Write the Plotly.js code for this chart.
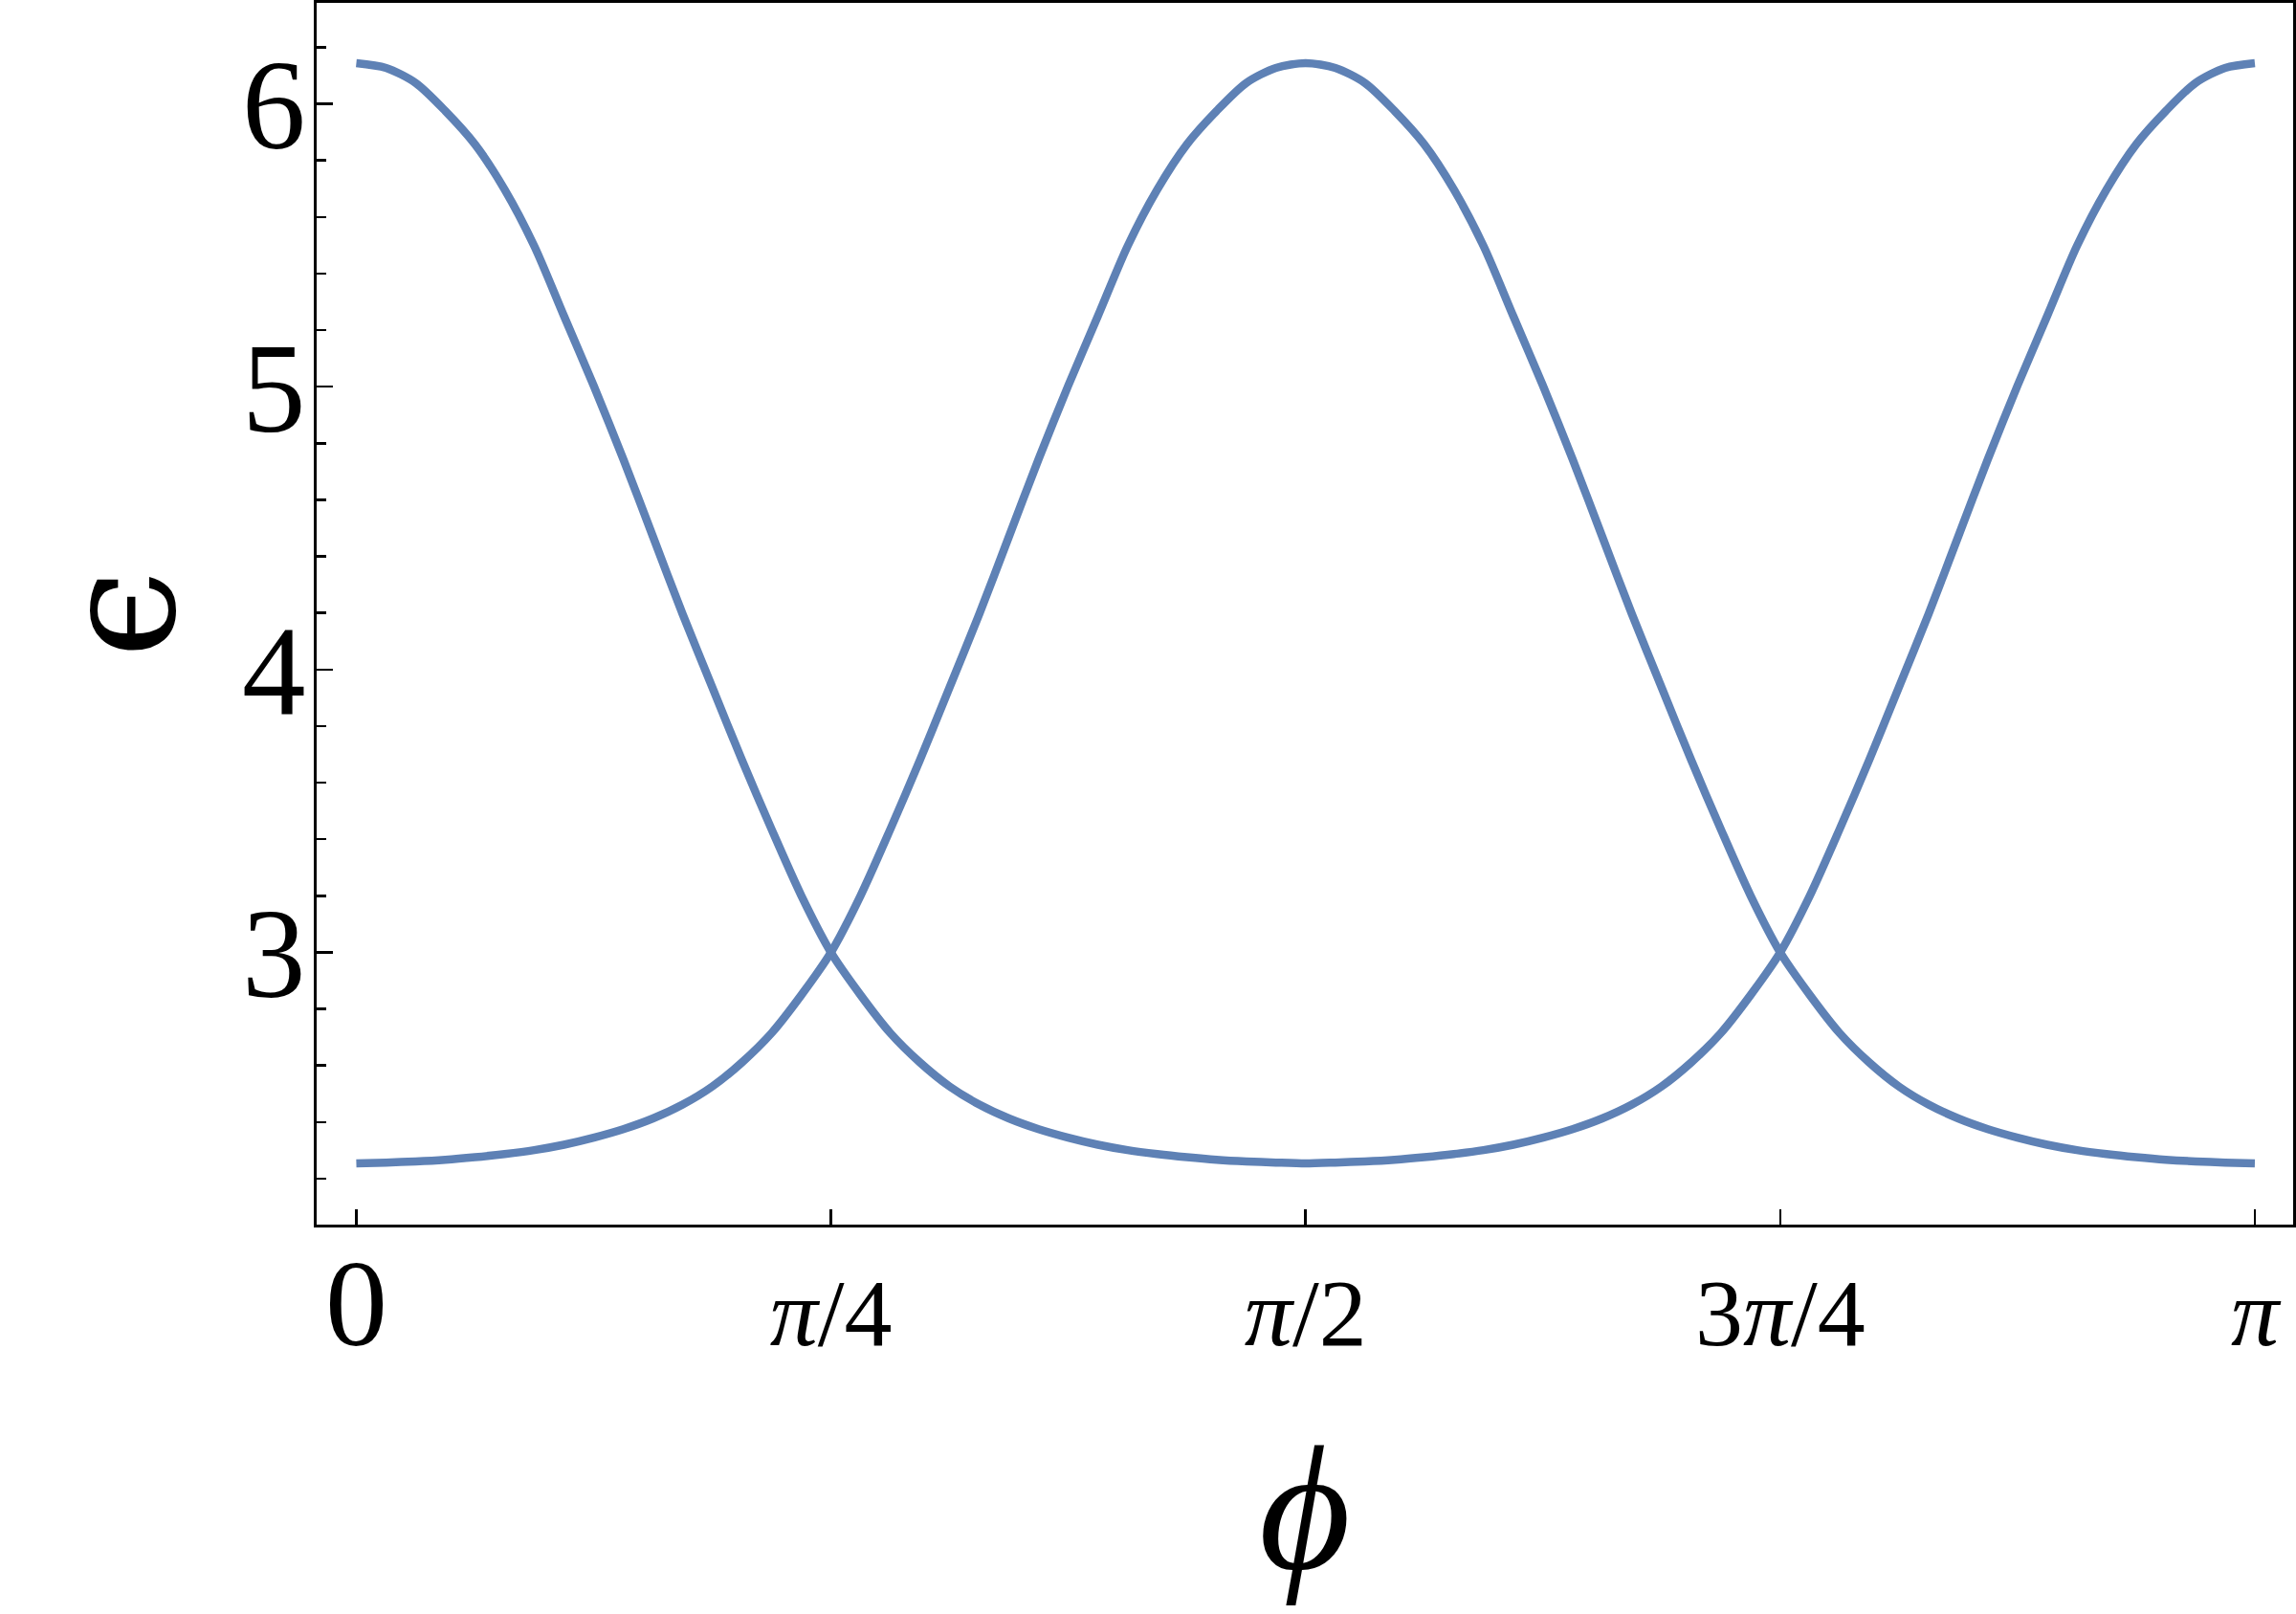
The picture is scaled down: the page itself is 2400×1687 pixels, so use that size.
<!DOCTYPE html>
<html>
<head>
<meta charset="utf-8">
<script src="https://cdn.plot.ly/plotly-3.0.1.min.js"></script>
<style>
	body { margin: 0; background: #fff; }
	#chart { width: 2400px; height: 1687px; }
</style>
</head>
<body>
<div id="chart"></div>
<script>
// phi sample points, in degrees (0 .. 180 = 0 .. pi), step pi/64
const phiDeg = [
	0, 2.8125, 5.625, 8.4375, 11.25, 14.0625, 16.875, 19.6875, 22.5, 25.3125,
	28.125, 30.9375, 33.75, 36.5625, 39.375, 42.1875, 45, 47.8125, 50.625, 53.4375,
	56.25, 59.0625, 61.875, 64.6875, 67.5, 70.3125, 73.125, 75.9375, 78.75, 81.5625,
	84.375, 87.1875, 90, 92.8125, 95.625, 98.4375, 101.25, 104.0625, 106.875, 109.6875,
	112.5, 115.3125, 118.125, 120.9375, 123.75, 126.5625, 129.375, 132.1875, 135, 137.8125,
	140.625, 143.4375, 146.25, 149.0625, 151.875, 154.6875, 157.5, 160.3125, 163.125, 165.9375,
	168.75, 171.5625, 174.375, 177.1875, 180
];

// branch that starts high at phi = 0
const epsHigh = [
	6.144, 6.127, 6.074, 5.975, 5.857, 5.697, 5.497, 5.250, 5.004, 4.744,
	4.470, 4.196, 3.937, 3.680, 3.435, 3.201, 3.000, 2.849, 2.715, 2.611,
	2.526, 2.462, 2.413, 2.375, 2.345, 2.320, 2.301, 2.287, 2.276, 2.267,
	2.261, 2.257, 2.254, 2.257, 2.261, 2.267, 2.276, 2.287, 2.301, 2.320,
	2.345, 2.375, 2.413, 2.462, 2.526, 2.611, 2.715, 2.849, 3.000, 3.201,
	3.435, 3.680, 3.937, 4.196, 4.470, 4.744, 5.004, 5.250, 5.497, 5.697,
	5.857, 5.975, 6.074, 6.127, 6.144
];

// branch that starts low at phi = 0
const epsLow = [
	2.254, 2.257, 2.261, 2.267, 2.276, 2.287, 2.301, 2.320, 2.345, 2.375,
	2.413, 2.462, 2.526, 2.611, 2.715, 2.849, 3.000, 3.201, 3.435, 3.680,
	3.937, 4.196, 4.470, 4.744, 5.004, 5.250, 5.497, 5.697, 5.857, 5.975,
	6.074, 6.127, 6.144, 6.127, 6.074, 5.975, 5.857, 5.697, 5.497, 5.250,
	5.004, 4.744, 4.470, 4.196, 3.937, 3.680, 3.435, 3.201, 3.000, 2.849,
	2.715, 2.611, 2.526, 2.462, 2.413, 2.375, 2.345, 2.320, 2.301, 2.287,
	2.276, 2.267, 2.261, 2.257, 2.254
];

const xTickVals = [0, 45, 90, 135, 180];
const xTickText = ["0", "π/4", "π/2", "3π/4", "π"];
const yTickVals = [3, 4, 5, 6];

const lineColor = "#5e81b5";
const serif = "Liberation Serif, Times New Roman, DejaVu Serif, serif";

function fracLabel(s) {
	if (s.indexOf("π") < 0) return s;
	return '<span style="font-size:100px">' + s.replace("π", "<i>π</i>") + "</span>";
}

function branch(y) {
	return {
		x: phiDeg,
		y: y,
		type: "scatter",
		mode: "lines",
		line: { color: lineColor, width: 8.5, shape: "spline", smoothing: 0.8 },
		hoverinfo: "skip",
		showlegend: false
	};
}

const layout = {
	width: 2400,
	height: 1687,
	margin: { l: 331, r: 3, t: 3, b: 407, pad: 0 },
	paper_bgcolor: "#fff",
	plot_bgcolor: "#fff",
	font: { family: serif, color: "#000", size: 130 },
	xaxis: {
		range: [-3.76, 183.63],
		showgrid: false,
		zeroline: false,
		showline: true,
		linecolor: "#000",
		linewidth: 3,
		mirror: true,
		ticks: "inside",
		ticklen: 16,
		tickwidth: 2.5,
		tickcolor: "#000",
		tickvals: xTickVals,
		ticktext: xTickText.map(fracLabel),
		tickfont: { family: serif, size: 130, color: "#000" },
		ticklabelstandoff: -33,
		title: {
			text: "<i>ϕ</i>",
			font: { family: serif, size: 185, color: "#000" },
			standoff: 77
		}
	},
	yaxis: {
		range: [2.0376, 6.357],
		showgrid: false,
		zeroline: false,
		showline: true,
		linecolor: "#000",
		linewidth: 3,
		mirror: true,
		ticks: "inside",
		ticklen: 17,
		tickwidth: 2.5,
		tickcolor: "#000",
		tickvals: yTickVals,
		ticktext: yTickVals.map(String),
		tickfont: { family: serif, size: 133, color: "#000" },
		ticklabelstandoff: -18,
		minor: {
			dtick: 0.2,
			tick0: 0,
			ticks: "inside",
			ticklen: 10,
			tickwidth: 2.5,
			tickcolor: "#000"
		},
		title: {
			text: "ϵ",
			font: { family: "DejaVu Serif, serif", size: 165, color: "#000" },
			standoff: 15
		}
	}
};

Plotly.newPlot("chart", [branch(epsHigh), branch(epsLow)], layout, {
	staticPlot: true,
	displayModeBar: false
});
</script>
</body>
</html>
